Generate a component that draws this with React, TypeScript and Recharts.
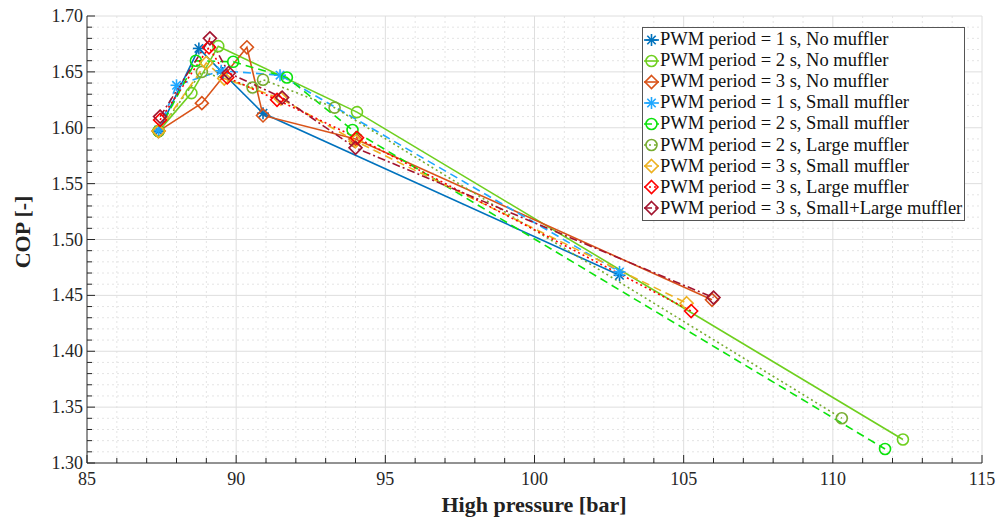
import { ComposedChart, Line, XAxis, YAxis, ReferenceLine, Legend } from 'recharts'

type Pt = { x: number; y: number }
const pts = (arr: number[][]): Pt[] => arr.map(([x, y]) => ({ x, y }))

// tick values
const xTicks = Array.from({ length: 31 }, (_, i) => 85 + i)
const yTicks = Array.from({ length: 41 }, (_, i) => Math.round((1.3 + i * 0.01) * 100) / 100)
const xMajor = [85, 90, 95, 100, 105, 110, 115]
const yMajor = [1.3, 1.35, 1.4, 1.45, 1.5, 1.55, 1.6, 1.65, 1.7]

// high pressure [bar], COP [-]
const pwm1NoMuffler = pts([[87.4, 1.597], [88.75, 1.671], [89.55, 1.649], [90.9, 1.613], [102.85, 1.468]])
const pwm2NoMuffler = pts([[87.4, 1.597], [88.5, 1.631], [89.4, 1.673], [94.05, 1.614], [112.35, 1.321]])
const pwm3NoMuffler = pts([[87.4, 1.597], [88.85, 1.622], [90.36, 1.672], [90.9, 1.611], [94.0, 1.59], [105.95, 1.446]])
const pwm1Small = pts([[87.4, 1.598], [88.0, 1.638], [89.5, 1.651], [91.47, 1.647], [102.85, 1.471]])
const pwm2Small = pts([[87.4, 1.597], [88.65, 1.66], [89.9, 1.659], [91.7, 1.645], [93.9, 1.598], [111.75, 1.3125]])
const pwm2Large = pts([[87.4, 1.597], [88.85, 1.65], [90.55, 1.636], [90.9, 1.643], [93.3, 1.618], [110.3, 1.34]])
const pwm3Small = pts([[87.4, 1.597], [89.0, 1.658], [89.6, 1.644], [91.5, 1.626], [94.0, 1.588], [105.1, 1.443]])
const pwm3Large = pts([[87.45, 1.607], [89.09, 1.672], [89.7, 1.645], [91.37, 1.625], [94.05, 1.591], [105.25, 1.436]])
const pwm3SmallLarge = pts([[87.45, 1.61], [89.12, 1.68], [89.75, 1.649], [91.54, 1.627], [94.0, 1.582], [106.0, 1.448]])

type Shape = 'star' | 'circle' | 'diamond'
const series: { name: string; data: Pt[]; color: string; dash?: string; shape: Shape }[] = [
  { name: 'PWM period = 1 s, No muffler', data: pwm1NoMuffler, color: '#0072BD', shape: 'star' },
  { name: 'PWM period = 2 s, No muffler', data: pwm2NoMuffler, color: '#6fcf1f', shape: 'circle' },
  { name: 'PWM period = 3 s, No muffler', data: pwm3NoMuffler, color: '#D95319', shape: 'diamond' },
  { name: 'PWM period = 1 s, Small muffler', data: pwm1Small, color: '#1ea7ff', dash: '8 5', shape: 'star' },
  { name: 'PWM period = 2 s, Small muffler', data: pwm2Small, color: '#0ce30c', dash: '8 5', shape: 'circle' },
  { name: 'PWM period = 2 s, Large muffler', data: pwm2Large, color: '#77AC30', dash: '2 3', shape: 'circle' },
  { name: 'PWM period = 3 s, Small muffler', data: pwm3Small, color: '#EDB120', dash: '8 5', shape: 'diamond' },
  { name: 'PWM period = 3 s, Large muffler', data: pwm3Large, color: '#FF0000', dash: '2 3', shape: 'diamond' },
  { name: 'PWM period = 3 s, Small+Large muffler', data: pwm3SmallLarge, color: '#A2142F', dash: '8 3 2 3', shape: 'diamond' },
]

const font = 'Liberation Serif, Tinos, DejaVu Serif, serif'
const axisColor = '#262626'

const Marker = ({ cx, cy, shape, color }: { cx: number; cy: number; shape: Shape; color: string }) => {
  if (shape === 'star') {
    const r = 6
    const d = r * 0.7
    return (
      <g stroke={color} strokeWidth={1.6}>
        <line x1={cx - r} x2={cx + r} y1={cy} y2={cy} />
        <line x1={cx} x2={cx} y1={cy - r} y2={cy + r} />
        <line x1={cx - d} x2={cx + d} y1={cy - d} y2={cy + d} />
        <line x1={cx - d} x2={cx + d} y1={cy + d} y2={cy - d} />
      </g>
    )
  }
  if (shape === 'circle') {
    return <circle cx={cx} cy={cy} r={5.5} fill='none' stroke={color} strokeWidth={1.6} />
  }
  const r = 6.5
  return (
    <polygon
      points={`${cx},${cy - r} ${cx + r},${cy} ${cx},${cy + r} ${cx - r},${cy}`}
      fill='none'
      stroke={color}
      strokeWidth={1.6}
    />
  )
}

const XTick = (props: any) => {
  const { x, y, payload } = props
  const v = payload.value
  const major = Math.round(v) % 5 === 0
  return (
    <g>
      <line x1={x} x2={x} y1={y} y2={y - (major ? 8 : 5)} stroke={axisColor} />
      {major && (
        <text x={x} y={y + 22} textAnchor='middle' style={{ fontFamily: font }} fontSize={18} fill={axisColor}>
          {v}
        </text>
      )}
    </g>
  )
}

const YTick = (props: any) => {
  const { x, y, payload } = props
  const v = payload.value
  const major = Math.round(v * 100) % 5 === 0
  return (
    <g>
      <line x1={x} x2={x + (major ? 8 : 5)} y1={y} y2={y} stroke={axisColor} />
      {major && (
        <text x={x - 4} y={y + 6} textAnchor='end' style={{ fontFamily: font }} fontSize={18} fill={axisColor}>
          {v.toFixed(2)}
        </text>
      )}
    </g>
  )
}

const LegendBox = () => (
  <div
    style={{
      border: '1px solid #555',
      background: '#fff',
      padding: '1px 0 1px 0',
      fontFamily: font,
      fontSize: 18.5,
      color: '#111',
      width: 323,
      boxSizing: 'border-box',
    }}
  >
    {series.map((s) => (
      <div key={s.name} style={{ display: 'flex', alignItems: 'center', height: 21.1, whiteSpace: 'nowrap' }}>
        <svg width={17} height={16} style={{ marginLeft: 0, marginRight: 0 }}>
          <line x1={1} x2={16} y1={8} y2={8} stroke={s.color} strokeWidth={1.6} strokeDasharray={s.dash} />
          <Marker cx={8.5} cy={8} shape={s.shape} color={s.color} />
        </svg>
        <span>{s.name}</span>
      </div>
    ))}
  </div>
)

const App = () => {
  return (
    <div style={{ position: 'absolute', left: 0, top: 0, background: '#fff', fontFamily: font }}>
      <ComposedChart width={998} height={518} margin={{ top: 16, right: 16, bottom: 0, left: 0 }}>
        <XAxis
          type='number'
          dataKey='x'
          domain={[85, 115]}
          ticks={xTicks}
          interval={0}
          height={55}
          tickSize={0}
          tickMargin={0}
          tickLine={false}
          axisLine={{ stroke: axisColor }}
          tick={<XTick />}
          allowDataOverflow
          label={{
            content: () => (
              <text x={534} y={512} textAnchor='middle' style={{ fontFamily: font }} fontSize={22} fontWeight='bold' fill='#222'>
                High pressure [bar]
              </text>
            ),
          }}
        />
        <YAxis
          type='number'
          dataKey='y'
          domain={[1.3, 1.7]}
          ticks={yTicks}
          interval={0}
          width={87}
          tickSize={0}
          tickMargin={0}
          tickLine={false}
          axisLine={{ stroke: axisColor }}
          tick={<YTick />}
          allowDataOverflow
          label={{
            content: () => (
              <text
                x={30}
                y={232}
                transform='rotate(-90 30 232)'
                textAnchor='middle'
                style={{ fontFamily: font }}
                fontSize={22}
                fontWeight='bold'
                fill='#222'
              >
                COP [-]
              </text>
            ),
          }}
        />
        {xTicks.filter((v) => !xMajor.includes(v)).map((v) => (
          <ReferenceLine key={'xm' + v} x={v} stroke='#e4e4e4' strokeDasharray='2 3' />
        ))}
        {yTicks.filter((v) => !yMajor.includes(v)).map((v) => (
          <ReferenceLine key={'ym' + v} y={v} stroke='#e4e4e4' strokeDasharray='2 3' />
        ))}
        {xMajor.slice(1).map((v) => (
          <ReferenceLine key={'xM' + v} x={v} stroke='#dedede' />
        ))}
        {yMajor.slice(1).map((v) => (
          <ReferenceLine key={'yM' + v} y={v} stroke='#dedede' />
        ))}
        {series.map((s) => (
          <Line
            key={s.name}
            data={s.data}
            dataKey='y'
            type='linear'
            stroke={s.color}
            strokeWidth={1.6}
            strokeDasharray={s.dash}
            isAnimationActive={false}
            legendType='none'
            dot={(p: any) => <Marker key={s.name + p.index} cx={p.cx} cy={p.cy} shape={s.shape} color={s.color} />}
            activeDot={false}
          />
        ))}
        <Legend
          layout='horizontal'
          verticalAlign='middle'
          align='center'
          content={() => <LegendBox />}
          wrapperStyle={{ position: 'absolute', left: 642, top: 27, width: 323, height: 'auto' }}
        />
      </ComposedChart>
    </div>
  )
}

export default App
